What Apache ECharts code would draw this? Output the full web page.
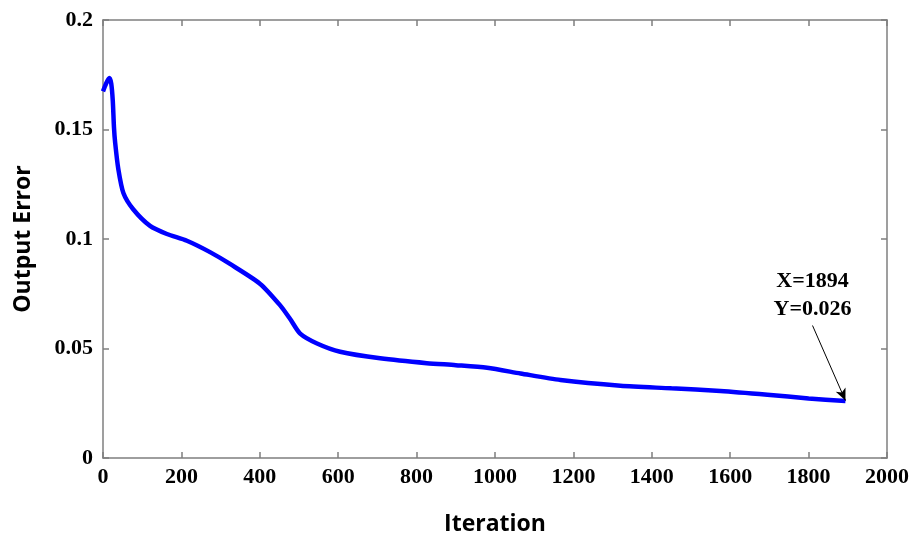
<!DOCTYPE html>
<html><head><meta charset="utf-8">
<script src="https://cdn.jsdelivr.net/npm/echarts@6/dist/echarts.min.js"></script>
<style>html,body{margin:0;padding:0;background:#fff}#c{width:912px;height:541px}</style>
</head><body><div id="c"></div>
<script>
const iterations = [0,8,16,21,25,28,31,39,52,77,120,163,214,273,324,401,452,477,503,546,605,707,826,900,980,1065,1167,1320,1450,1575,1695,1800,1894];
const outputError = [0.1674,0.171,0.1735,0.171,0.163,0.151,0.144,0.132,0.121,0.1136,0.106,0.1023,0.0992,0.094,0.0886,0.0795,0.0697,0.0636,0.0568,0.0523,0.0485,0.0455,0.0433,0.0424,0.0412,0.0386,0.0356,0.033,0.0318,0.0306,0.0289,0.0272,0.026];
const xTicks = [0,200,400,600,800,1000,1200,1400,1600,1800,2000];
const yTicks = ['0','0.05','0.1','0.15','0.2'];
const annotStart = [1810, 0.0605];
const annotEnd = [1894, 0.0262];
const annotText = 'X=1894\nY=0.026';

const chart = echarts.init(document.getElementById('c'));
const tickFont = {fontFamily:'Liberation Serif', fontWeight:'bold', fontSize:22, color:'#000'};
const axisLine = {show:true, onZero:false, lineStyle:{color:'#7f7f7f', width:1.5}};
const tick = {show:true, inside:true, length:6, lineStyle:{color:'#7f7f7f', width:1.5}};
chart.setOption({
  animation:false,
  grid:{left:103, right:24, top:20, bottom:81},
  xAxis:[
    {type:'value', min:xTicks[0], max:xTicks[xTicks.length-1], interval:200, axisLine, axisTick:tick, splitLine:{show:false},
     axisLabel:{...tickFont, margin:8, formatter:v=>String(v)},
     name:'Iteration', nameLocation:'middle', nameGap:55,
     nameTextStyle:{fontFamily:'Open Sans', fontWeight:'bold', fontSize:23, color:'#000'}},
    {type:'value', position:'top', min:0, max:2000, interval:200, axisLine, axisTick:tick, axisLabel:{show:false}, splitLine:{show:false}}
  ],
  yAxis:[
    {type:'value', min:0, max:0.2, interval:0.05, axisLine, axisTick:tick, splitLine:{show:false},
     axisLabel:{...tickFont, margin:10, formatter:(v,i)=>yTicks[i] ?? String(v)},
     name:'Output Error', nameLocation:'middle', nameGap:68,
     nameTextStyle:{fontFamily:'Open Sans', fontWeight:'bold', fontSize:23, color:'#000'}},
    {type:'value', position:'right', min:0, max:0.2, interval:0.05, axisLine, axisTick:tick, axisLabel:{show:false}, splitLine:{show:false}}
  ],
  series:[{
    type:'line', showSymbol:false, smooth:0.25,
    data: iterations.map((x,i)=>[x, outputError[i]]),
    lineStyle:{color:'#0000ff', width:4.5},
    markLine:{
      silent:true, symbol:['none','arrow'], symbolSize:[8,12],
      lineStyle:{color:'#000', width:1, type:'solid'},
      label:{show:false},
      data:[[{coord:annotStart},{coord:annotEnd}]]
    },
    markPoint:{
      silent:true, symbol:'circle', symbolSize:0,
      data:[{coord:annotStart, label:{show:true, position:'top', distance:2, formatter:annotText,
        fontFamily:'Liberation Serif', fontWeight:'bold', fontSize:22, lineHeight:28, color:'#000', align:'center'}}]
    }
  }]
});
</script></body></html>
